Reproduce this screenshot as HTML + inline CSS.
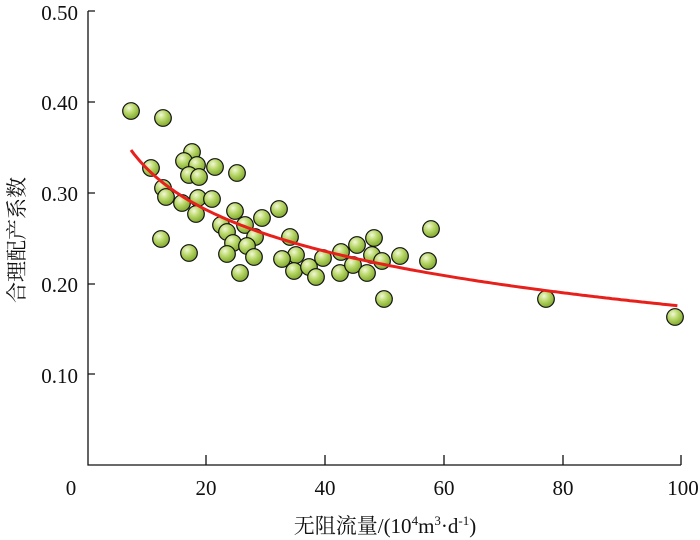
<!DOCTYPE html>
<html><head><meta charset="utf-8"><style>
body{margin:0;background:#fff;}
svg{display:block;}
text{font-family:"Liberation Serif","Noto Serif CJK SC",serif;fill:#111;}
</style></head><body>
<svg id="s" width="700" height="540" viewBox="0 0 700 540">
<defs>
<radialGradient id="g" cx="0.38" cy="0.32" r="0.7">
<stop offset="0" stop-color="#f2f8d8"/>
<stop offset="0.45" stop-color="#b9d86a"/>
<stop offset="1" stop-color="#7fa82c"/>
</radialGradient>
</defs>
<g stroke="#111" stroke-width="1.3" fill="none">
<path d="M88 11 V465 H681"/>
<path d="M88 11 h7 M88 102 h7 M88 193 h7 M88 284 h7 M88 374 h7"/>
<path d="M206 465 v-10 M325 465 v-10 M444 465 v-10 M563 465 v-10 M681 465 v-10"/>
</g>
<g font-size="21" text-anchor="end">
<text x="78" y="20">0.50</text>
<text x="78" y="110">0.40</text>
<text x="78" y="201">0.30</text>
<text x="78" y="292">0.20</text>
<text x="78" y="383">0.10</text>
</g>
<g font-size="21" text-anchor="middle">
<text x="71" y="495">0</text>
<text x="206" y="495">20</text>
<text x="325" y="495">40</text>
<text x="444" y="495">60</text>
<text x="563" y="495">80</text>
<text x="683" y="495">100</text>
</g>
<text x="385" y="533" font-size="21" text-anchor="middle">无阻流量/(10<tspan font-size="13" dy="-8">4</tspan><tspan dy="8">m</tspan><tspan font-size="13" dy="-8">3</tspan><tspan dy="8">·d</tspan><tspan font-size="13" dy="-8">-1</tspan><tspan dy="8">)</tspan></text>
<text transform="translate(24,240) rotate(-90)" font-size="21" text-anchor="middle">合理配产系数</text>
<g id="pts" fill="url(#g)" stroke="#111" stroke-width="1.2"></g>
<path id="curve" fill="none" stroke="#e8201c" stroke-width="3"/>
</svg>
<script>
var P=[[131,111],[163,118],[151,168],[192,152],[184,161],[197,165],[189,175],[199,177],[215,167],[237,173],[163,188],[166,197],[182,203],[198,198],[212,199],[196,214],[161,239],[189,253],[235,211],[221,225],[227,232],[245,225],[262,218],[279,209],[255,237],[233,243],[247,246],[227,254],[254,257],[240,273],[290,237],[296,255],[282,259],[294,271],[309,267],[316,277],[323,258],[341,252],[357,245],[374,238],[340,273],[353,265],[367,273],[372,255],[382,261],[400,256],[431,229],[428,261],[384,299],[546,299],[675,317]];
var g=document.getElementById('pts'),h='';
P.forEach(function(p){h+='<circle cx="'+p[0]+'" cy="'+p[1]+'" r="8.3"/>';});
g.innerHTML=h;
var d='';
for(var x=7.4;x<=99.4;x+=0.5){var y=0.347-0.066*(Math.log(x)-2.0);var px=87+x*5.94,py=465-y*908;d+=(d?'L':'M')+px.toFixed(1)+' '+py.toFixed(1);}
document.getElementById('curve').setAttribute('d',d);
</script>
</body></html>
